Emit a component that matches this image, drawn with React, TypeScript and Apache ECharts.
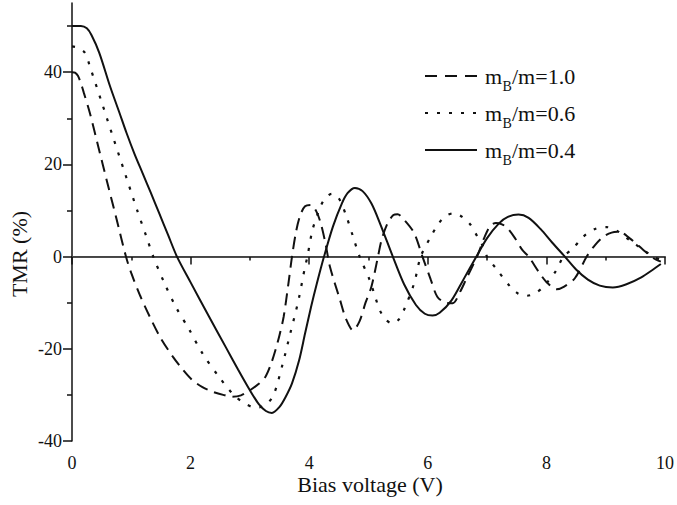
import React, { useEffect, useRef } from "react";
import * as echarts from "echarts";

const ratioLabels = ["1.0", "0.6", "0.4"];
const xTitle = "Bias voltage (V)";
const yTitle = "TMR (%)";
const yMajorTicks = [-40, -20, 0, 20, 40];
const yMinorTicks = [-30, -10, 10, 30, 50];

// m_B/m = 1.0 (dashed)
const seriesDashed: [number, number][] = [
  [0, 40], [0.05, 39.9], [0.1, 39.2], [0.15, 37.6], [0.2, 35.5], [0.3, 31.2], [0.45, 23.5],
  [0.6, 15.8], [0.75, 8.2], [0.91, 0], [1.0, -3.6], [1.15, -8.5], [1.31, -13], [1.5, -17.8],
  [1.7, -21.7], [1.86, -24.4], [2.03, -26.8], [2.2, -28.3], [2.37, -29.3], [2.55, -30],
  [2.7, -30.4], [2.85, -30.1], [3.0, -29], [3.15, -27.6], [3.26, -26.1], [3.35, -23.5],
  [3.43, -20.3], [3.5, -17], [3.57, -13], [3.65, -5.8], [3.71, 0], [3.78, 5.5], [3.85, 9],
  [3.93, 10.9], [4.03, 11.2], [4.12, 9.8], [4.2, 7], [4.28, 2.5], [4.35, -2.2], [4.52, -9.4],
  [4.62, -13.5], [4.74, -16], [4.85, -14], [4.95, -10], [5.05, -6.5], [5.16, 0], [5.22, 3.6],
  [5.32, 7.2], [5.42, 9], [5.49, 9.2], [5.6, 8], [5.77, 5.1], [5.91, 0], [6.05, -5],
  [6.16, -8.7], [6.3, -10], [6.42, -10.1], [6.55, -7.5], [6.64, -5.1], [6.83, 0], [6.95, 4],
  [7.05, 6.6], [7.15, 7.3], [7.25, 7], [7.34, 6.2], [7.47, 4], [7.59, 1.5], [7.7, 0],
  [7.87, -3.3], [8.0, -5.5], [8.17, -7.1], [8.3, -6.5], [8.48, -4.7], [8.68, 0], [8.82, 2.5],
  [8.96, 4.3], [9.1, 5.2], [9.23, 5.4], [9.4, 4], [9.63, 1.5], [9.8, -0.3], [9.93, -1.1],
];

// m_B/m = 0.6 (dotted)
const seriesDotted: [number, number][] = [
  [0, 45.6], [0.1, 45.3], [0.22, 44.2], [0.3, 41.3], [0.5, 33.5], [0.7, 25.6], [0.9, 17.8],
  [1.1, 10], [1.25, 4.5], [1.37, 0], [1.56, -5.8], [1.75, -10.9], [1.98, -15.9], [2.2, -21],
  [2.48, -26.1], [2.76, -30.4], [3.04, -32.6], [3.15, -32.7], [3.28, -32], [3.4, -30],
  [3.54, -23.9], [3.68, -16.7], [3.82, -9.4], [3.93, -2.2], [3.97, 0], [4.05, 5.5],
  [4.15, 9.5], [4.25, 12.3], [4.38, 13.6], [4.5, 12.6], [4.62, 9], [4.74, 4.3], [4.85, 0],
  [5.02, -5.1], [5.19, -11.6], [5.3, -13.8], [5.41, -14.5], [5.52, -13.5], [5.61, -11.2],
  [5.77, -5.8], [5.88, 0], [6.05, 4.3], [6.19, 7.3], [6.3, 8.8], [6.44, 9.4], [6.58, 8.6],
  [6.72, 6.9], [6.85, 4], [6.95, 1.8], [7.0, 0], [7.17, -2.9], [7.39, -6.5], [7.52, -8],
  [7.67, -8.5], [7.82, -7.9], [7.95, -6.5], [8.15, -3.3], [8.29, 0], [8.45, 1.8], [8.62, 4.3],
  [8.82, 6], [9.01, 6.4], [9.2, 5.5], [9.4, 3.6], [9.63, 1.5], [9.8, 0], [9.93, -0.7],
];

// m_B/m = 0.4 (solid)
const seriesSolid: [number, number][] = [
  [0, 50], [0.15, 50], [0.25, 49.5], [0.33, 48], [0.46, 44.2], [0.64, 37], [0.8, 31.2],
  [0.92, 26.8], [1.05, 22.4], [1.19, 18.1], [1.33, 13.8], [1.47, 9.4], [1.62, 4.7], [1.77, 0],
  [2.0, -5.6], [2.31, -13], [2.6, -19.8], [2.8, -24.5], [3.0, -29], [3.15, -32],
  [3.27, -33.5], [3.37, -33.9], [3.5, -32.6], [3.6, -30.5], [3.71, -27.5], [3.83, -22.5],
  [3.93, -16.7], [4.03, -11], [4.13, -5.8], [4.25, 0], [4.4, 6.5], [4.55, 11.5], [4.65, 13.8],
  [4.77, 14.9], [4.9, 14.2], [5.05, 11.5], [5.2, 7], [5.41, 0], [5.6, -6], [5.8, -10.5],
  [5.95, -12.4], [6.08, -12.8], [6.2, -12.2], [6.4, -9.5], [6.6, -5], [6.82, 0], [7.0, 4],
  [7.2, 7.2], [7.35, 8.6], [7.53, 9.1], [7.7, 8.4], [7.9, 6], [8.1, 3], [8.31, 0], [8.5, -2.8],
  [8.7, -5], [8.9, -6.3], [9.12, -6.7], [9.35, -6], [9.6, -4.5], [9.8, -2.8], [9.93, -1.6],
];

const FONT = "'Liberation Serif', 'Times New Roman', serif";

export default function App() {
  const ref = useRef<HTMLDivElement>(null);
  useEffect(() => {
    if (!ref.current) return;
    const chart = echarts.init(ref.current, undefined, { renderer: "svg" });

    const legendRows = [76, 113, 150];
    const dashes = [[12, 8], [3, 9], null];
    const txt = (x: number, y: number, text: string, size: number, align = "left", rotation = 0) => ({
      type: "text", x, y, rotation,
      style: {
        text, fontFamily: FONT, fontSize: size, fill: "#111",
        align, verticalAlign: "middle",
      },
    });
    const graphic: any[] = [];
    ratioLabels.forEach((lab, i) => {
      const y = legendRows[i];
      graphic.push({
        type: "line",
        shape: { x1: 425, y1: y, x2: 477, y2: y },
        style: { stroke: "#111", lineWidth: 2, lineDash: dashes[i] || undefined, lineCap: "butt" },
      });
      graphic.push(txt(485, y, "m", 22));
      graphic.push(txt(502.5, y + 10.5, "B", 14));
      graphic.push(txt(512, y, "/m=" + lab, 22));
    });
    graphic.push(txt(370, 484, xTitle, 22, "center"));
    graphic.push(txt(19, 254, yTitle, 22, "center", Math.PI / 2));

    const axisLine = { show: true, lineStyle: { color: "#111", width: 1.5 } };

    chart.setOption({
      animation: false,
      grid: { left: 72, right: 8, top: 3, bottom: 64, containLabel: false },
      xAxis: {
        type: "value", min: 0, max: 10, interval: 2,
        axisLine,
        axisTick: { show: true, length: 8, lineStyle: { color: "#111", width: 1.5 } },
        minorTick: { show: true, splitNumber: 2, length: 4, lineStyle: { color: "#111", width: 1.5 } },
        splitLine: { show: false },
        axisLabel: { fontFamily: FONT, fontSize: 18, color: "#111", margin: 13 },
      },
      yAxis: [
        {
          type: "value", min: -40, max: 55, interval: 20,
          axisLine,
          axisTick: { show: true, length: 9, customValues: yMajorTicks, lineStyle: { color: "#111", width: 1.5 } },
          splitLine: { show: false },
          axisLabel: { fontFamily: FONT, fontSize: 18, color: "#111", margin: 10, customValues: yMajorTicks },
        },
        {
          type: "value", min: -40, max: 55, position: "left",
          axisLine: { show: false },
          axisTick: { show: true, length: 5, customValues: yMinorTicks, lineStyle: { color: "#111", width: 1.5 } },
          splitLine: { show: false },
          axisLabel: { show: false },
        },
      ],
      graphic,
      series: [
        {
          type: "line", data: seriesDashed, showSymbol: false, symbol: "none", smooth: 0.3,
          lineStyle: { color: "#111", width: 2, type: [12, 7], cap: "butt" },
          z: 3,
        },
        {
          type: "line", data: seriesDotted, showSymbol: false, symbol: "none", smooth: 0.3,
          lineStyle: { color: "#111", width: 2.2, type: [3, 9], cap: "butt" },
          z: 3,
        },
        {
          type: "line", data: seriesSolid, showSymbol: false, symbol: "none", smooth: 0.3,
          lineStyle: { color: "#111", width: 2, type: "solid" },
          z: 3,
          markLine: {
            silent: true, symbol: ["none", "none"], label: { show: false },
            lineStyle: { color: "#444", width: 1.2, type: "solid" },
            data: [{ yAxis: 0 }],
            z: 1,
          },
        },
      ],
    });
    return () => chart.dispose();
  }, []);
  return (
    <div
      ref={ref}
      style={{ position: "fixed", left: 0, top: 0, width: 677, height: 505, background: "#fff" }}
    />
  );
}
